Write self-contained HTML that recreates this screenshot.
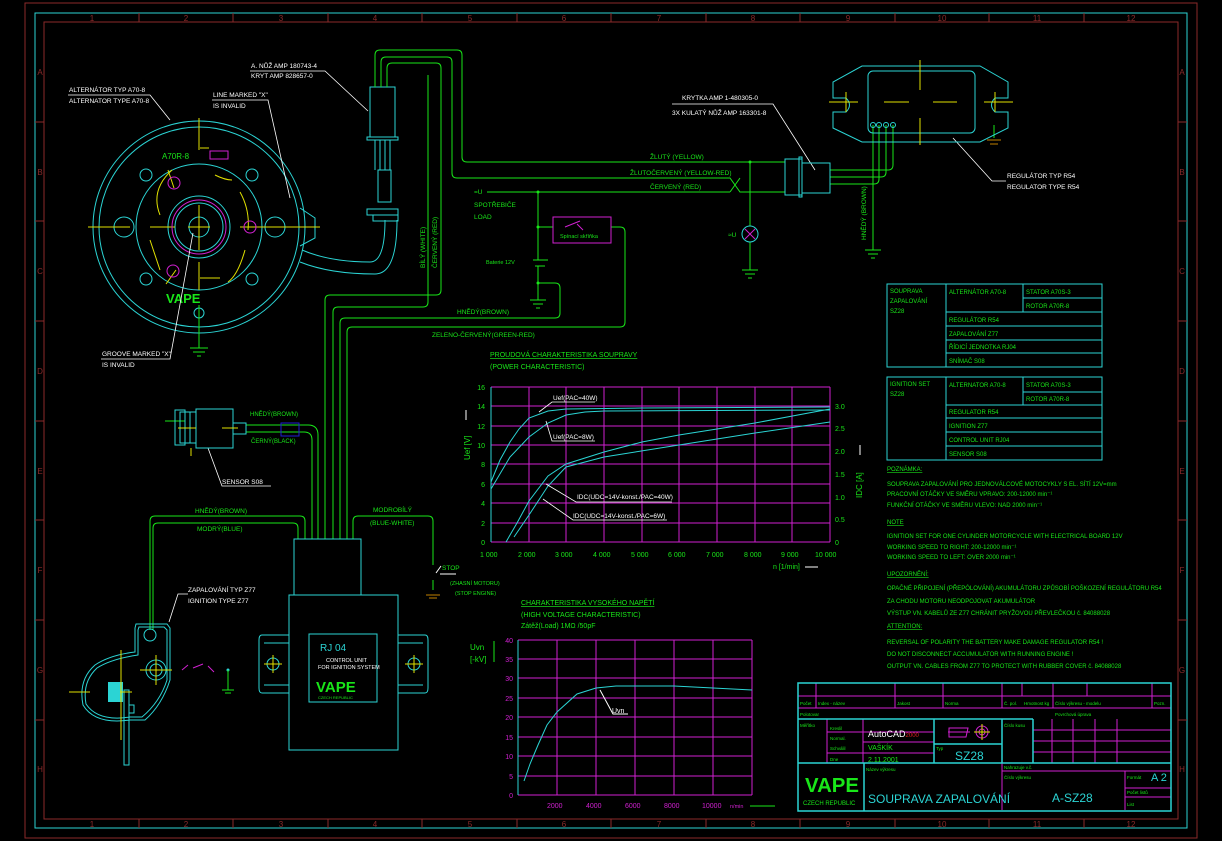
<!DOCTYPE html>
<html><head><meta charset="utf-8"><style>
html,body{margin:0;padding:0;background:#000;width:1222px;height:841px;overflow:hidden}
svg{display:block}
text{font-family:"Liberation Sans","DejaVu Sans",sans-serif}
</style></head><body>
<svg width="1222" height="841" viewBox="0 0 1222 841" xmlns="http://www.w3.org/2000/svg">
<rect width="1222" height="841" fill="#000"/>
<rect x="25" y="3" width="1172" height="835" fill="none" stroke="#8b2a2a" stroke-width="1"/>
<rect x="35" y="13" width="1152" height="815" fill="none" stroke="#2bd4d4" stroke-width="1"/>
<rect x="44" y="22" width="1134" height="797" fill="none" stroke="#8b2a2a" stroke-width="1"/>
<g fill="#8b2a2a" font-size="8" text-anchor="middle">
<text x="92" y="21">1</text><text x="186" y="21">2</text><text x="281" y="21">3</text><text x="375" y="21">4</text><text x="470" y="21">5</text><text x="564" y="21">6</text><text x="659" y="21">7</text><text x="753" y="21">8</text><text x="848" y="21">9</text><text x="942" y="21">10</text><text x="1037" y="21">11</text><text x="1131" y="21">12</text>
<text x="92" y="827">1</text><text x="186" y="827">2</text><text x="281" y="827">3</text><text x="375" y="827">4</text><text x="470" y="827">5</text><text x="564" y="827">6</text><text x="659" y="827">7</text><text x="753" y="827">8</text><text x="848" y="827">9</text><text x="942" y="827">10</text><text x="1037" y="827">11</text><text x="1131" y="827">12</text>
<text x="40" y="75">A</text><text x="40" y="175">B</text><text x="40" y="274">C</text><text x="40" y="374">D</text><text x="40" y="474">E</text><text x="40" y="573">F</text><text x="40" y="673">G</text><text x="40" y="772">H</text>
<text x="1182" y="75">A</text><text x="1182" y="175">B</text><text x="1182" y="274">C</text><text x="1182" y="374">D</text><text x="1182" y="474">E</text><text x="1182" y="573">F</text><text x="1182" y="673">G</text><text x="1182" y="772">H</text>
</g>
<g stroke="#8b2a2a"><path d="M139 13V22M233 13V22M328 13V22M422 13V22M517 13V22M611 13V22M706 13V22M800 13V22M895 13V22M989 13V22M1084 13V22M139 819V828M233 819V828M328 819V828M422 819V828M517 819V828M611 819V828M706 819V828M800 819V828M895 819V828M989 819V828M1084 819V828M35 122H44M35 221H44M35 321H44M35 421H44M35 520H44M35 620H44M35 720H44M1178 122H1187M1178 221H1187M1178 321H1187M1178 421H1187M1178 520H1187M1178 620H1187M1178 720H1187"/></g>

<g fill="none" stroke="#2bd4d4" stroke-width="1">
<circle cx="199" cy="227" r="106"/><circle cx="199" cy="227" r="100"/>
<circle cx="199" cy="227" r="63"/><circle cx="199" cy="227" r="31"/><circle cx="199" cy="227" r="24"/><circle cx="199" cy="227" r="10"/>
<circle cx="146" cy="175" r="6"/><circle cx="252" cy="175" r="6"/><circle cx="146" cy="279" r="6"/><circle cx="252" cy="279" r="6"/>
<circle cx="124" cy="227" r="10"/><circle cx="275" cy="227" r="10"/><circle cx="199" cy="313" r="5"/>
<path d="M300 208 L315 218 L315 238 L300 246"/>
<path d="M302 250 Q330 262 370 262 Q385 262 385 220 L385 220 M300 262 Q330 274 375 274 Q397 274 397 220"/>
<rect x="370" y="87" width="25" height="50"/><rect x="367" y="137" width="31" height="3"/>
<path d="M375 140V170M380 140V170M385 140V170M390 140V170"/>
<rect x="378" y="170" width="13" height="32"/><rect x="367" y="209" width="31" height="6"/><rect x="373" y="215" width="25" height="6"/>
</g>
<g fill="none" stroke="#e0e000" stroke-width="1">
<path d="M199 118V150M199 205V250M199 262V290M88 227H130M240 227H320M150 227H175M188 227H210M199 320V335"/>
<path d="M215 175 Q225 180 232 180M160 215 Q150 190 172 170M150 240 Q155 255 160 270M240 192 Q250 210 248 230M245 250 Q238 275 228 282M200 278 H220"/>
<path d="M168 170 L174 188M166 284 L176 270M209 148H200"/>
</g>
<g fill="none" stroke="#d020d0"><circle cx="199" cy="227" r="27"/><circle cx="174" cy="183" r="6"/><circle cx="250" cy="227" r="6"/><circle cx="173" cy="271" r="6"/><rect x="210" y="151" width="18" height="8"/></g>
<text x="162" y="159" fill="#19e619" font-size="8">A70R-8</text>
<text x="166" y="303" fill="#19e619" font-size="13" font-weight="bold">VAPE</text>
<path d="M199 305V348M190 348H208M193 352H205M197 356H201" stroke="#19e619" fill="none"/>
<g fill="#fff" font-size="6.5">
<text x="69" y="92">ALTERNÁTOR TYP A70-8</text><text x="69" y="103">ALTERNATOR TYPE A70-8</text>
<text x="213" y="97">LINE MARKED "X"</text><text x="213" y="108">IS INVALID</text>
<text x="251" y="68">A. NŮŽ AMP 180743-4</text><text x="251" y="78">KRYT AMP 828657-0</text>
<text x="102" y="356">GROOVE MARKED "X"</text><text x="102" y="367">IS INVALID</text>
</g>
<g stroke="#fff" fill="none" stroke-width="0.8">
<path d="M68 95H150L170 120M212 100H268L290 198M250 71H325L368 111M101 359H170L193 233"/>
</g>

<g fill="none" stroke="#19e619" stroke-width="1">
<path d="M375 87V55Q375 50 380 50H457Q462 50 462 55V157Q462 162 467 162H785"/>
<path d="M381 87V62Q381 57 386 57H447Q452 57 452 62V173Q452 178 457 178H730L740 192H785"/>
<path d="M387 87V68Q387 63 392 63H436Q441 63 441 68V290Q441 295 436 295H330Q325 295 325 300V539"/>
<path d="M730 192L740 178M487 192H730"/>
<path d="M428 75V302Q428 307 423 307H338Q333 307 333 312V539"/>
<path d="M560 288V313Q560 318 555 318H345Q340 318 340 323V539"/>
<path d="M538 283H555Q560 283 560 288"/>
<path d="M611 227H620Q625 227 625 232V322Q625 327 620 327H352Q347 327 347 332V539"/>
<path d="M538 192V260M538 266V283M538 227H553M533 260H548M535 266H545M538 283V300M530 300H546M533 304H543M536 308H540"/>
<path d="M750 162V226M750 242V270M742 270H758M745 274H755M748 278H752"/>
<path d="M246 425H308Q318 425 318 435V539M246 432H304Q312 432 312 440V539"/>
<path d="M150 630V521Q150 516 155 516H300Q305 516 305 521V539M153 630V528Q153 523 158 523H293Q298 523 298 528V539"/>
<path d="M353 539V521Q353 516 358 516H428Q433 516 433 521V565M433 580V590"/>
<path d="M830 170H888Q893 170 893 165V125M830 177H881Q886 177 886 172V125M830 184H874Q879 184 879 179V125M873 125V250M865 250H881M868 254H878M871 258H875"/>
<path d="M994 125V138"/>
<path d="M165 421H185"/>
</g>
<circle cx="750" cy="162" r="1.5" fill="#19e619"/><circle cx="538" cy="192" r="1.5" fill="#19e619"/><circle cx="538" cy="227" r="1.5" fill="#19e619"/><circle cx="538" cy="283" r="1.5" fill="#19e619"/>
<circle cx="750" cy="234" r="8" fill="none" stroke="#2bd4d4"/><path d="M745 229L755 239M755 229L745 239" stroke="#d020d0"/>
<rect x="553" y="217" width="58" height="26" fill="none" stroke="#d020d0"/>
<path d="M565 227L580 221M577 224L583 230" stroke="#d020d0"/>
<text x="560" y="238" fill="#19e619" font-size="5.5">Spínací skříňka</text>
<g fill="#19e619" font-size="6.5">
<text x="650" y="159">ŽLUTÝ (YELLOW)</text><text x="630" y="175">ŽLUTOČERVENÝ (YELLOW-RED)</text><text x="650" y="189">ČERVENÝ (RED)</text>
<text x="474" y="194">=U</text><text x="474" y="207">SPOTŘEBIČE</text><text x="474" y="219">LOAD</text>
<text x="486" y="264" font-size="5.5">Baterie 12V</text><text x="728" y="237">≈U</text>
<text x="457" y="314">HNĚDÝ(BROWN)</text><text x="432" y="337">ZELENO-ČERVENÝ(GREEN-RED)</text>
<text transform="translate(425 268) rotate(-90)">BÍLÝ (WHITE)</text>
<text transform="translate(437 268) rotate(-90)">ČERVENÝ (RED)</text>
<text transform="translate(866 240) rotate(-90)">HNĚDÝ (BROWN)</text>
<text x="250" y="416" font-size="6">HNĚDÝ(BROWN)</text><text x="251" y="443" font-size="6">ČERNÝ(BLACK)</text>
<text x="195" y="513">HNĚDÝ(BROWN)</text><text x="197" y="531">MODRÝ(BLUE)</text>
<text x="373" y="512">MODROBÍLÝ</text><text x="370" y="525">(BLUE-WHITE)</text>
<text x="442" y="570">STOP</text><text x="450" y="585" font-size="5.5">(ZHASNÍ MOTORU)</text><text x="455" y="595" font-size="5.5">(STOP ENGINE)</text>
</g>
<path d="M436 573L441 566M440 574H456" stroke="#fff"/>
<path d="M426 595H440M429 598H437" stroke="#c08000"/>
<g fill="#fff" font-size="6.5">
<text x="682" y="100">KRYTKA AMP 1-480305-0</text><text x="672" y="115">3X KULATÝ NŮŽ AMP 163301-8</text>
<text x="1007" y="178">REGULÁTOR TYP R54</text><text x="1007" y="189">REGULATOR TYPE R54</text>
<text x="222" y="484">SENSOR S08</text>
<text x="188" y="592">ZAPALOVÁNÍ TYP Z77</text><text x="188" y="603">IGNITION TYPE Z77</text>
</g>
<g stroke="#fff" fill="none" stroke-width="0.8">
<path d="M672 104H773L815 170M1006 181H992L953 138M271 486H222L208 448M188 594H178L169 622"/>
</g>

<g fill="none" stroke="#2bd4d4">
<rect x="785" y="159" width="17" height="36"/><rect x="799" y="157" width="3" height="40"/><rect x="802" y="163" width="28" height="30"/>
<path d="M862 66H980L1008 82V98H995Q988 105 995 112H1008V128L980 142H862L833 128V112H846Q853 105 846 98H833V82Z"/>
<rect x="868" y="71" width="107" height="62" rx="5"/>
<circle cx="873" cy="125" r="2.5"/><circle cx="879" cy="125" r="2.5"/><circle cx="886" cy="125" r="2.5"/><circle cx="893" cy="125" r="2.5"/>
</g>
<path d="M920 60V90M920 118V145M884 102H909M933 102H957M829 102H858M984 102H1013M846 92V112M995 92V112" stroke="#e0e000"/>
<path d="M987 140H1001M990 144H998" stroke="#c08000"/>

<g fill="none" stroke="#2bd4d4">
<rect x="175" y="410" width="10" height="35"/><rect x="180" y="412" width="10" height="31"/><rect x="196" y="409" width="37" height="39"/><rect x="233" y="423" width="13" height="11"/>
<path d="M190 412H196M190 443H196"/>
</g>
<path d="M178 428H196M222 428H238M191 448V456" stroke="#e0e000"/>
<rect x="281" y="423" width="18" height="13" fill="none" stroke="#2020d0"/>

<g fill="none" stroke="#2bd4d4">
<rect x="294" y="539" width="67" height="56"/>
<rect x="289" y="595" width="109" height="155"/>
<path d="M289 635H262Q259 635 259 640V688Q259 693 262 693H289M398 635H425Q428 635 428 640V688Q428 693 425 693H398"/>
<path d="M264 643H289M264 685H289M398 643H423M398 685H423"/>
<circle cx="273" cy="664" r="6"/><circle cx="414" cy="664" r="6"/>
<rect x="309" y="634" width="68" height="68"/>
</g>
<path d="M264 664H282M273 655V673M405 664H423M414 655V673" stroke="#e0e000"/>
<text x="320" y="651" fill="#2bd4d4" font-size="10">RJ 04</text>
<text x="326" y="662" fill="#fff" font-size="5.5">CONTROL UNIT</text><text x="318" y="669" fill="#fff" font-size="5.5">FOR IGNITION SYSTEM</text>
<text x="316" y="692" fill="#19e619" font-size="15" font-weight="bold">VAPE</text>
<text x="318" y="699" fill="#19e619" font-size="4">CZECH REPUBLIC</text>

<g fill="none" stroke="#2bd4d4">
<path d="M136 624H167L170 628V680Q162 705 145 720H130Q95 725 83 705Q78 680 95 665Q110 655 135 652V628Z"/>
<path d="M139 627H164L167 630V680Q160 702 142 717H130Q98 722 86 704Q82 682 97 668Q111 659 138 655V630Z"/>
<circle cx="150" cy="635" r="6"/><circle cx="156" cy="670" r="10"/><circle cx="156" cy="670" r="6"/>
<rect x="124" y="690" width="5" height="75"/><rect x="129" y="705" width="5" height="8"/>
</g>
<rect x="108" y="682" width="15" height="20" fill="#2bd4d4"/>
<path d="M140 670H172M156 655V685M69 692H90M120 692H132M121 650V740" stroke="#e0e000"/>
<path d="M182 670L188 665M193 668L203 664M208 666L214 672" stroke="#d020d0"/>
<circle cx="228" cy="670" r="1.5" fill="#2bd4d4"/><path d="M228 670V690M222 690H234M225 693H231" stroke="#19e619"/>

<text x="490" y="357" fill="#19e619" font-size="7" text-decoration="underline">PROUDOVÁ CHARAKTERISTIKA SOUPRAVY</text>
<text x="490" y="369" fill="#19e619" font-size="7">(POWER CHARACTERISTIC)</text>
<g stroke="#d020d0" fill="none">
<path d="M491 387H830M491 406H830M491 426H830M491 445H830M491 464H830M491 484H830M491 503H830M491 523H830M491 542H830"/>
<path d="M529 387V542M566 387V542M604 387V542M642 387V542M679 387V542M717 387V542M755 387V542M792 387V542M830 387V542"/>
</g>
<path d="M491 387V542" stroke="#2bd4d4"/>
<g fill="none" stroke="#2bd4d4" stroke-width="1">
<polyline points="491,482 500,460 510,442 519,429 529,418 548,411 566,409 642,408 830,407"/>
<polyline points="491,489 510,457 529,437 548,423 566,415 585,412 604,411 830,410"/>
<polyline points="506,542 517,523 529,501 548,476 566,464 604,452 642,442 679,435 755,423 830,409"/>
<polyline points="514,537 529,515 548,486 566,467 604,457 679,445 755,433 830,422"/>
</g>
<g fill="#19e619" font-size="7" text-anchor="end">
<text x="485" y="390">16</text><text x="485" y="409">14</text><text x="485" y="429">12</text><text x="485" y="448">10</text><text x="485" y="467">8</text><text x="485" y="487">6</text><text x="485" y="506">4</text><text x="485" y="526">2</text><text x="485" y="545">0</text>
</g>
<g fill="#19e619" font-size="7">
<text x="835" y="409">3.0</text><text x="835" y="431">2.5</text><text x="835" y="454">2.0</text><text x="835" y="477">1.5</text><text x="835" y="500">1.0</text><text x="835" y="522">0.5</text><text x="835" y="545">0</text>
<text x="480" y="557">1 000</text><text x="518" y="557">2 000</text><text x="555" y="557">3 000</text><text x="593" y="557">4 000</text><text x="631" y="557">5 000</text><text x="668" y="557">6 000</text><text x="706" y="557">7 000</text><text x="744" y="557">8 000</text><text x="781" y="557">9 000</text><text x="815" y="557">10 000</text>
<text x="773" y="569">n [1/min]</text>
<text transform="translate(470 460) rotate(-90)" font-size="8">Uef [V]</text>
<text transform="translate(862 498) rotate(-90)" font-size="8">IDC [A]</text>
</g>
<path d="M805 567H818M466 420V410M860 455V445" stroke="#fff"/>
<g fill="#fff" font-size="6.5">
<text x="553" y="400">Uef(PAC=40W)</text><text x="553" y="439">Uef(PAC=8W)</text>
<text x="577" y="499">IDC(UDC=14V-konst./PAC=40W)</text><text x="573" y="518">IDC(UDC=14V-konst./PAC=6W)</text>
</g>
<g stroke="#fff" fill="none" stroke-width="0.8">
<path d="M595 402H552L539 412M595 441H552L546 421M672 502H576L546 484M667 520H573L543 499"/>
</g>

<text x="521" y="605" fill="#19e619" font-size="7" text-decoration="underline">CHARAKTERISTIKA VYSOKÉHO NAPĚTÍ</text>
<text x="521" y="617" fill="#19e619" font-size="7">(HIGH VOLTAGE CHARACTERISTIC)</text>
<text x="521" y="628" fill="#19e619" font-size="7">Zátěž(Load) 1MΩ /50pF</text>
<g stroke="#d020d0" fill="none">
<path d="M518 640H752M518 659H752M518 678H752M518 698H752M518 717H752M518 737H752M518 756H752M518 776H752M518 795H752"/>
<path d="M557 640V795M596 640V795M635 640V795M674 640V795M713 640V795M752 640V795"/>
</g>
<path d="M518 640V795" stroke="#2bd4d4"/>
<polyline points="524,781 530,764 538,745 547,725 557,712 577,694 596,688 616,686 674,686 713,688 752,690" fill="none" stroke="#2bd4d4"/>
<g fill="#d020d0" font-size="7" text-anchor="end">
<text x="513" y="643">40</text><text x="513" y="662">35</text><text x="513" y="681">30</text><text x="513" y="701">25</text><text x="513" y="720">20</text><text x="513" y="740">15</text><text x="513" y="759">10</text><text x="513" y="779">5</text><text x="513" y="798">0</text>
</g>
<g fill="#d020d0" font-size="7">
<text x="547" y="808">2000</text><text x="586" y="808">4000</text><text x="625" y="808">6000</text><text x="664" y="808">8000</text><text x="702" y="808">10000</text><text x="730" y="808" font-size="5.5">n/min</text>
</g>
<path d="M750 806H775" stroke="#19e619"/>
<text x="470" y="650" fill="#19e619" font-size="8">Uvn</text><text x="470" y="662" fill="#19e619" font-size="8">[-kV]</text>
<path d="M494 641V662" stroke="#19e619"/>
<text x="612" y="713" fill="#fff" font-size="7">Uvn</text>
<path d="M628 714H613L600 690" stroke="#fff" fill="none"/>

<g fill="none" stroke="#2bd4d4">
<rect x="887" y="284" width="215" height="83"/><path d="M946 284V367M1023 284V312M1023 298H1102M946 312H1102M946 326H1102M946 340H1102M946 353H1102"/>
<rect x="887" y="377" width="215" height="83"/><path d="M946 377V460M1023 377V405M1023 392H1102M946 405H1102M946 418H1102M946 432H1102M946 446H1102"/>
</g>
<g fill="#19e619" font-size="6">
<text x="890" y="293">SOUPRAVA</text><text x="890" y="303">ZAPALOVÁNÍ</text><text x="890" y="313">SZ28</text>
<text x="949" y="294">ALTERNÁTOR A70-8</text><text x="1026" y="294">STATOR A70S-3</text><text x="1026" y="308">ROTOR A70R-8</text>
<text x="949" y="322">REGULÁTOR R54</text><text x="949" y="336">ZAPALOVÁNÍ Z77</text><text x="949" y="349">ŘÍDICÍ JEDNOTKA RJ04</text><text x="949" y="363">SNÍMAČ S08</text>
<text x="890" y="386">IGNITION SET</text><text x="890" y="396">SZ28</text>
<text x="949" y="387">ALTERNATOR A70-8</text><text x="1026" y="387">STATOR A70S-3</text><text x="1026" y="401">ROTOR A70R-8</text>
<text x="949" y="414">REGULATOR R54</text><text x="949" y="428">IGNITION Z77</text><text x="949" y="442">CONTROL UNIT RJ04</text><text x="949" y="456">SENSOR S08</text>
</g>
<g fill="#19e619" font-size="6">
<text x="887" y="471" text-decoration="underline">POZNÁMKA:</text>
<text x="887" y="486">SOUPRAVA ZAPALOVÁNÍ PRO JEDNOVÁLCOVÉ MOTOCYKLY S EL. SÍTÍ 12V=mm</text>
<text x="887" y="496">PRACOVNÍ OTÁČKY VE SMĚRU VPRAVO: 200-12000 min⁻¹</text>
<text x="887" y="507">FUNKČNÍ OTÁČKY VE SMĚRU VLEVO: NAD 2000 min⁻¹</text>
<text x="887" y="524" text-decoration="underline">NOTE</text>
<text x="887" y="538">IGNITION SET FOR ONE CYLINDER MOTORCYCLE WITH ELECTRICAL BOARD 12V</text>
<text x="887" y="549">WORKING SPEED TO RIGHT: 200-12000 min⁻¹</text>
<text x="887" y="559">WORKING SPEED TO LEFT: OVER 2000 min⁻¹</text>
<text x="887" y="576" text-decoration="underline">UPOZORNĚNÍ:</text>
<text x="887" y="590">OPAČNÉ PŘIPOJENÍ (PŘEPÓLOVÁNÍ) AKUMULÁTORU ZPŮSOBÍ POŠKOZENÍ REGULÁTORU R54</text>
<text x="887" y="603">ZA CHODU MOTORU NEODPOJOVAT AKUMULÁTOR</text>
<text x="887" y="615">VÝSTUP VN. KABELŮ ZE Z77 CHRÁNIT PRYŽOVOU PŘEVLEČKOU č. 84088028</text>
<text x="887" y="628" text-decoration="underline">ATTENTION:</text>
<text x="887" y="644">REVERSAL OF POLARITY THE BATTERY MAKE DAMAGE REGULATOR R54 !</text>
<text x="887" y="656">DO NOT DISCONNECT ACCUMULATOR WITH RUNNING ENGINE !</text>
<text x="887" y="668">OUTPUT VN. CABLES FROM Z77 TO PROTECT WITH RUBBER COVER č. 84088028</text>
</g>

<g fill="none" stroke="#d020d0" stroke-width="1">
<path d="M798 696H1171M798 708H1171M816 683V708M895 683V708M943 683V708M1002 683V708M1022 683V696M1053 683V708M1087 683V696M1152 683V708"/>
<path d="M827 719V763M863 719V763M863 742H934M827 732H934M827 753H934"/>
<path d="M1033 730H1171M1033 741H1171M1033 752H1171M1073 719V763M1095 719V763M1117 719V763M1052 719V763"/>
<path d="M1002 771H1171M1125 771V810M1125 788H1171M1125 797H1171M1002 763V810"/>
</g>
<g fill="none" stroke="#2bd4d4" stroke-width="1.5">
<rect x="798" y="683" width="373" height="128"/>
<path d="M798 719H1033M798 763H1171M864 763V811M934 719V763M934 744H1002M1002 719V763M1033 719V763"/>
</g>
<path d="M949 728H968L966 737H949Z M948 732H970" stroke="#d020d0" fill="none"/>
<circle cx="982" cy="732" r="6" stroke="#d020d0" fill="none"/><circle cx="982" cy="732" r="3" stroke="#d020d0" fill="none"/>
<path d="M974 732H990M982 724V740" stroke="#e0e000"/>
<g fill="#19e619" font-size="4.5">
<text x="800" y="705">Počet</text><text x="818" y="705">Index - název</text><text x="897" y="705">Jakost</text><text x="945" y="705">Norma</text><text x="1004" y="705">Č. pol.</text><text x="1024" y="705">Hmotnost kg</text><text x="1055" y="705">Číslo výkresu - modelu</text><text x="1154" y="705">Pozn.</text>
<text x="800" y="716">Polotovar</text><text x="1055" y="716">Povrchová úprava</text>
<text x="800" y="727">Měřítko</text><text x="830" y="730">Kreslil</text><text x="830" y="740">Normal.</text><text x="830" y="750">Schválil</text><text x="830" y="761">Dne</text>
<text x="936" y="750">Typ</text><text x="1004" y="727">Číslo kusu</text>
<text x="866" y="771">Název výkresu</text><text x="1004" y="769">Nahrazuje v.č.</text><text x="1004" y="779">Číslo výkresu</text>
<text x="1127" y="779">Formát</text><text x="1127" y="794">Počet listů</text><text x="1127" y="806">List</text>
</g>
<text x="868" y="737" fill="#fff" font-size="9">AutoCAD<tspan fill="#e02020" font-size="6">2000</tspan></text>
<text x="868" y="750" fill="#19e619" font-size="7">VAŠKÍK</text>
<text x="868" y="762" fill="#19e619" font-size="7">2.11.2001</text>
<text x="955" y="760" fill="#2bd4d4" font-size="12">SZ28</text>
<text x="868" y="803" fill="#2bd4d4" font-size="12">SOUPRAVA ZAPALOVÁNÍ</text>
<text x="1052" y="802" fill="#2bd4d4" font-size="12">A-SZ28</text>
<text x="1151" y="781" fill="#2bd4d4" font-size="11">A 2</text>
<text x="805" y="792" fill="#19e619" font-size="20" font-weight="bold" textLength="54" lengthAdjust="spacingAndGlyphs">VAPE</text>
<text x="803" y="805" fill="#19e619" font-size="6">CZECH REPUBLIC</text>
</svg>
</body></html>
